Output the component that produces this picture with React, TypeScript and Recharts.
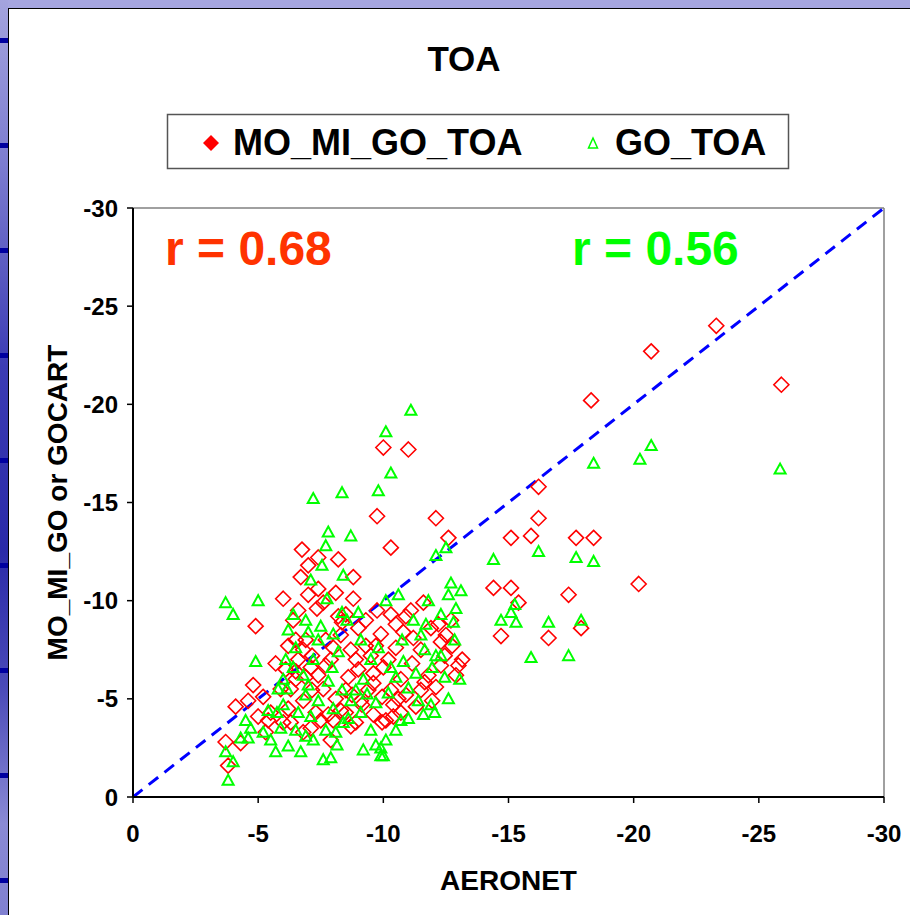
import { ScatterChart, Scatter, XAxis, YAxis, ReferenceLine, Label } from 'recharts';

const FONT = '"Liberation Sans", Arial, Helvetica, sans-serif';

// axis ticks (both axes run from 0 down to -30)
const axisTicks = [0, -5, -10, -15, -20, -25, -30];

// [AERONET, model] pairs
const moMiGoToa: [number, number][] = [
  [-3.8, -1.6], [-3.7, -2.8], [-4.3, -2.75], [-4.1, -4.6], [-4.6, -4.9], [-4.8, -5.7], [-5.0, -4.1],
  [-5.2, -5.1], [-4.9, -8.7], [-6.0, -10.1], [-5.3, -3.3], [-5.5, -4.3], [-5.9, -5.5], [-6.1, -6.5],
  [-6.2, -7.7], [-6.0, -3.8], [-6.3, -3.8], [-6.3, -5.5], [-6.5, -6.0], [-6.5, -6.4], [-6.6, -7.0],
  [-6.6, -9.5], [-6.5, -8.0], [-6.7, -11.2], [-6.75, -12.6],
  [-7.0, -11.8], [-7.4, -12.2], [-8.2, -12.1], [-8.8, -11.2], [-7.4, -10.6], [-7.6, -9.9], [-7.35, -9.6],
  [-8.2, -9.2], [-8.5, -9.3], [-8.35, -8.9], [-6.9, -8.0], [-7.15, -7.2], [-7.7, -6.7], [-7.9, -7.0],
  [-7.7, -8.0], [-8.0, -7.6], [-8.3, -8.25], [-8.7, -7.5], [-8.9, -7.0], [-9.3, -7.7], [-9.5, -7.2],
  [-9.7, -7.7], [-6.8, -4.9], [-7.15, -5.45], [-7.3, -4.3], [-7.5, -3.9], [-7.8, -4.2], [-8.0, -3.9],
  [-8.3, -4.4], [-8.5, -5.45], [-8.75, -5.2], [-9.1, -4.9], [-9.4, -5.45], [-9.6, -5.8], [-7.9, -2.9],
  [-8.5, -4.3], [-8.9, -3.8], [-9.15, -4.7], [-6.9, -6.1], [-7.4, -6.2], [-9.75, -9.5], [-9.3, -9.0],
  [-6.4, -9.0], [-6.8, -7.5], [-7.1, -6.6], [-7.6, -5.5], [-8.1, -5.0], [-8.6, -6.1], [-9.0, -6.5],
  [-9.6, -6.3], [-10.0, -6.6], [-10.6, -5.0], [-11.3, -4.6], [-12.1, -5.6], [-12.3, -7.9], [-11.2, -8.1],
  [-10.9, -9.2], [-9.9, -8.3], [-9.0, -8.6], [-8.1, -10.4], [-7.0, -10.3], [-6.2, -4.5], [-5.7, -6.8],
  [-5.4, -3.9], [-6.8, -3.3], [-7.1, -3.5], [-8.7, -3.6], [-9.6, -4.2], [-10.4, -4.1], [-11.8, -6.2],
  [-12.9, -6.2], [-12.2, -8.8], [-10.3, -9.3], [-8.8, -10.1],
  [-10.0, -17.8], [-11.0, -17.7], [-9.75, -14.3], [-12.1, -14.2], [-12.6, -13.2], [-10.3, -12.7],
  [-10.5, -8.8], [-10.8, -8.4], [-11.1, -9.5], [-11.6, -9.9], [-11.9, -8.6], [-12.7, -9.0], [-12.5, -8.25],
  [-12.75, -7.7], [-12.45, -7.2], [-13.0, -6.7], [-13.15, -7.0], [-11.5, -7.5], [-11.15, -6.8],
  [-10.7, -6.0], [-10.3, -5.45], [-9.95, -5.1], [-10.9, -5.2], [-11.5, -5.45], [-11.65, -5.85],
  [-11.95, -4.9], [-12.3, -6.7], [-10.1, -3.9], [-9.95, -3.8], [-10.4, -4.7], [-10.7, -4.3], [-10.2, -7.0],
  [-10.5, -7.6],
  [-14.4, -10.65], [-15.1, -10.65], [-15.4, -9.9], [-14.7, -8.2], [-16.6, -8.1], [-17.4, -10.3],
  [-17.9, -8.6], [-20.2, -10.85], [-15.1, -13.2], [-15.9, -13.3], [-16.2, -14.2], [-16.2, -15.8],
  [-17.7, -13.2], [-18.4, -13.2], [-18.3, -20.2], [-20.7, -22.7], [-23.3, -24.0], [-25.9, -21.0],
];

const goToa: [number, number][] = [
  [-3.8, -0.85], [-4.0, -1.8], [-3.7, -2.3], [-4.3, -3.0], [-4.6, -3.0], [-4.7, -3.5], [-4.5, -3.9],
  [-4.9, -6.9], [-3.7, -9.9], [-4.0, -9.3], [-5.0, -10.0], [-5.2, -3.3], [-5.5, -2.9], [-5.7, -2.3],
  [-5.75, -4.3], [-6.0, -4.7], [-6.0, -6.0], [-6.1, -7.0], [-6.2, -8.5], [-6.4, -9.3], [-6.15, -5.5],
  [-6.6, -4.3], [-6.7, -2.3], [-6.5, -3.4],
  [-7.2, -15.2], [-8.35, -15.5], [-7.8, -13.5], [-8.7, -13.3], [-7.7, -12.8], [-7.55, -11.8],
  [-8.4, -11.3], [-7.1, -11.05], [-7.75, -10.1], [-6.9, -9.0], [-7.5, -8.7], [-8.35, -9.4], [-8.55, -9.0],
  [-7.4, -8.0], [-7.2, -7.0], [-7.95, -6.6], [-8.2, -7.4], [-9.1, -8.0], [-9.5, -7.0], [-9.8, -7.6],
  [-6.9, -5.2], [-7.4, -4.9], [-7.7, -3.4], [-7.6, -1.9], [-7.9, -2.0], [-8.15, -2.65], [-8.4, -3.8],
  [-8.7, -4.9], [-8.9, -5.45], [-9.1, -4.3], [-9.35, -5.25], [-9.5, -3.4], [-9.7, -2.65], [-9.9, -2.1],
  [-7.2, -2.9], [-7.1, -4.1], [-8.35, -5.45],
  [-6.4, -6.6], [-6.8, -6.2], [-7.0, -5.7], [-7.8, -5.9], [-8.0, -4.5], [-8.6, -4.0], [-9.2, -6.0],
  [-9.7, -4.8], [-10.2, -5.3], [-10.8, -6.9], [-11.3, -6.3], [-11.2, -9.0], [-11.7, -8.8], [-12.3, -9.3],
  [-12.8, -8.9], [-9.0, -9.4], [-8.0, -8.3], [-7.0, -8.4], [-6.5, -7.6], [-5.8, -5.5], [-5.4, -4.4],
  [-6.9, -3.1], [-8.1, -3.3], [-9.2, -2.4], [-10.5, -3.4], [-11.0, -4.0], [-12.6, -5.0], [-6.2, -2.6],
  [-5.9, -3.5],
  [-11.1, -19.7], [-10.1, -18.6], [-9.8, -15.6], [-10.3, -16.5], [-12.1, -12.3], [-12.7, -10.9],
  [-12.6, -10.3], [-11.8, -10.0], [-12.9, -9.6], [-10.6, -10.3], [-10.1, -10.0], [-10.75, -8.0],
  [-11.5, -8.25], [-11.65, -7.5], [-12.3, -7.2], [-11.95, -6.6], [-12.45, -6.1], [-13.05, -6.0],
  [-10.3, -6.6], [-10.5, -6.1], [-11.0, -5.55], [-11.4, -4.9], [-11.6, -4.2], [-11.9, -4.7],
  [-12.05, -4.3], [-10.1, -2.9], [-9.9, -2.5], [-10.0, -2.1], [-10.7, -3.9], [-12.1, -7.2],
  [-12.85, -8.0], [-13.1, -10.5], [-12.5, -12.7],
  [-14.4, -12.1], [-16.2, -12.5], [-17.7, -12.2], [-18.4, -12.0], [-15.25, -9.8], [-14.7, -9.0],
  [-15.3, -8.9], [-16.6, -8.9], [-17.9, -9.0], [-15.9, -7.1], [-17.4, -7.2], [-18.4, -17.0],
  [-20.25, -17.2], [-20.7, -17.9], [-25.85, -16.7], [-15.1, -9.4],
];

const rMoMiGo = 0.68;
const rGo = 0.56;

const toRows = (pts: [number, number][]) => pts.map(([x, y]) => ({ x, y }));

const RED = '#ff0000';
const GREEN = '#00ff00';

const Diamond = (props: any) => {
  const { cx, cy } = props;
  const h = 7.5;
  return (
    <polygon
      points={`${cx},${cy - h} ${cx + h},${cy} ${cx},${cy + h} ${cx - h},${cy}`}
      fill="none"
      stroke={RED}
      strokeWidth={1.6}
    />
  );
};

const Triangle = (props: any) => {
  const { cx, cy } = props;
  return (
    <polygon
      points={`${cx},${cy - 5.5} ${cx + 5.5},${cy + 4.5} ${cx - 5.5},${cy + 4.5}`}
      fill="none"
      stroke={GREEN}
      strokeWidth={2}
    />
  );
};

// left edge of the slide behind the panel
const markRows = [40, 145, 250, 355, 460, 565, 670, 775, 880];

export default function App() {
  const tickStyle = { fill: '#000', fontSize: 24, fontWeight: 700, fontFamily: FONT };
  const titleStyle = { fill: '#000', fontSize: 28, fontWeight: 700, fontFamily: FONT };

  return (
    <div style={{ position: 'relative', width: 910, height: 915, overflow: 'hidden', background: '#fff', fontFamily: FONT }}>
      <style>{'body{margin:0}'}</style>
      <div style={{ position: 'absolute', left: 0, top: 0, width: 910, height: 8, background: '#a6a6e0' }} />
      <div
        style={{
          position: 'absolute', left: 0, top: 0, width: 8, height: 915,
          background: 'linear-gradient(to bottom, #a4a4de 0%, #7c7cd0 18%, #3c3cb4 40%, #2a2aa8 60%, #4a4ab8 75%, #8a8ad4 90%, #8080d0 100%)',
        }}
      />
      {markRows.map((y) => (
        <div key={y} style={{ position: 'absolute', left: 0, top: y - 2, width: 8, height: 5, background: '#0000a0' }} />
      ))}
      <div style={{ position: 'absolute', left: 8, top: 8, width: 902, height: 907, background: '#fff', borderLeft: '1px solid #000', borderTop: '1px solid #000', boxSizing: 'border-box' }} />

      <div style={{ position: 'absolute', left: 0, top: 0 }}>
        <ScatterChart width={910} height={915} margin={{ top: 208, right: 26, bottom: 0, left: 0 }}>
          <XAxis
            type="number"
            dataKey="x"
            domain={[-30, 0]}
            reversed
            ticks={axisTicks}
            interval={0}
            height={118}
            tick={tickStyle}
            tickSize={6}
            tickMargin={22}
            axisLine={{ stroke: '#000', strokeWidth: 2 }}
            tickLine={{ stroke: '#000', strokeWidth: 1.5 }}
          >
            <Label value="AERONET" position="insideBottom" offset={25} style={titleStyle} />
          </XAxis>
          <YAxis
            type="number"
            dataKey="y"
            domain={[-30, 0]}
            reversed
            ticks={axisTicks}
            interval={0}
            width={133}
            tick={tickStyle}
            tickSize={6}
            tickMargin={9}
            axisLine={{ stroke: '#000', strokeWidth: 2 }}
            tickLine={{ stroke: '#000', strokeWidth: 1.5 }}
          >
            <Label
              value="MO_MI_GO or GOCART"
              angle={-90}
              position="insideLeft"
              offset={57}
              style={{ ...titleStyle, textAnchor: 'middle' }}
            />
          </YAxis>
          <ReferenceLine x={-30} stroke="#808080" strokeWidth={1.5} />
          <ReferenceLine y={-30} stroke="#808080" strokeWidth={1.5} />
          <ReferenceLine
            segment={[{ x: 0, y: 0 }, { x: -30, y: -30 }]}
            stroke="#0000ff"
            strokeWidth={3}
            strokeDasharray="12 8"
          />
          <Scatter name="MO_MI_GO_TOA" data={toRows(moMiGoToa)} shape={<Diamond />} isAnimationActive={false} />
          <Scatter name="GO_TOA" data={toRows(goToa)} shape={<Triangle />} isAnimationActive={false} />
        </ScatterChart>
      </div>

      <svg width={910} height={915} style={{ position: 'absolute', left: 0, top: 0, pointerEvents: 'none' }} fontFamily={FONT} fontWeight={700}>
        <text x={464} y={71} textAnchor="middle" fontSize={35} fill="#000">TOA</text>

        <rect x={167.5} y={114.5} width={621} height={54} fill="#fff" stroke="#555" strokeWidth={1.5} />
        <polygon points="211,135 219,143 211,151 203,143" fill={RED} />
        <text x={233} y={155} fontSize={36} fill="#000">MO_MI_GO_TOA</text>
        <polygon points="593,138 597.5,148 588.5,148" fill="none" stroke={GREEN} strokeWidth={1.5} />
        <text x={615} y={155} fontSize={36} fill="#000">GO_TOA</text>

        <text x={165} y={265} fontSize={48} fill="#ff3300">{`r = ${rMoMiGo.toFixed(2)}`}</text>
        <text x={572} y={265} fontSize={48} fill="#00ff00">{`r = ${rGo.toFixed(2)}`}</text>
      </svg>
    </div>
  );
}
